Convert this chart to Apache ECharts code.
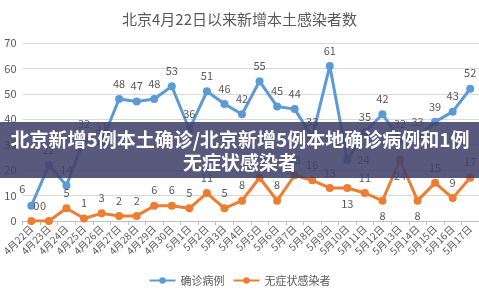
<!DOCTYPE html>
<html>
<head>
<meta charset="utf-8">
<script src="https://cdn.jsdelivr.net/npm/echarts@6/dist/echarts.min.js"></script>
<style>
  html, body { margin: 0; padding: 0; background: #fff; }
  #chart { width: 479px; height: 300px; }
</style>
</head>
<body>
<div id="chart"></div>
<script>
const dates = ['4月22日', '4月23日', '4月24日', '4月25日', '4月26日', '4月27日', '4月28日', '4月29日', '4月30日',
    '5月1日', '5月2日', '5月3日', '5月4日', '5月5日', '5月6日', '5月7日', '5月8日', '5月9日', '5月10日',
    '5月11日', '5月12日', '5月13日', '5月14日', '5月15日', '5月16日', '5月17日'];
const confirmed = [6, 22, 14, 32, 31, 48, 47, 48, 53, 36, 51, 46, 42, 55, 45, 44, 33, 61, 24, 35, 42, 32, 33, 39, 43, 52];
const asymptomatic = [0, 0, 5, 1, 3, 2, 2, 6, 6, 5, 11, 5, 8, 17, 8, 18, 16, 13, 13, 11, 8, 24, 8, 15, 9, 17];

// label placement that differs from "above the marker"
const confirmedLabelPos = {
    0: {position: [-8, -18]},
    18: {position: 'right'}
};
const asymptomaticLabelPos = {
    0: {position: [6, -17]},
    1: {position: [-5, -17]},
    18: {position: 'bottom'},
    20: {position: 'bottom'},
    21: {position: 'bottom'},
    22: {position: 'bottom'}
};

const BLUE = '#5b9bd5';
const ORANGE = '#ed7d31';
const GREY = '#595959';

function lineSeries(name, values, color, labelPos) {
    return {
        name: name,
        type: 'line',
        data: values.map((v, i) => labelPos[i] ? {value: v, label: labelPos[i]} : v),
        symbol: 'circle',
        symbolSize: 8,
        lineStyle: {width: 3, color: color},
        itemStyle: {color: color},
        label: {show: true, position: 'top', distance: 6, color: GREY, fontSize: 11},
        animation: false
    };
}

const chart = echarts.init(document.getElementById('chart'));
chart.setOption({
    textStyle: {fontFamily: '"Noto Sans CJK SC", "Noto Sans", sans-serif'},
    title: {
        text: '北京4月22日以来新增本土感染者数',
        left: 'center',
        top: 7,
        textStyle: {fontSize: 15, fontWeight: 'normal', color: GREY}
    },
    legend: {
        bottom: 9,
        left: 'center',
        itemWidth: 26,
        itemHeight: 8,
        itemGap: 8,
        textStyle: {fontSize: 11, color: GREY},
        data: ['确诊病例', '无症状感染者']
    },
    grid: {left: 19, right: -8, top: 43, bottom: 79},
    xAxis: {
        type: 'category',
        data: dates,
        axisLine: {lineStyle: {color: '#bfbfbf'}},
        axisTick: {show: true, length: 4, lineStyle: {color: '#bfbfbf'}},
        axisLabel: {rotate: 45, interval: 0, fontSize: 10, color: GREY, margin: 6}
    },
    yAxis: {
        type: 'value',
        min: 0,
        max: 70,
        interval: 10,
        axisLine: {show: false},
        axisTick: {show: false},
        axisLabel: {fontSize: 11, color: GREY, margin: 6},
        splitLine: {lineStyle: {color: '#d9d9d9'}}
    },
    series: [
        lineSeries('确诊病例', confirmed, BLUE, confirmedLabelPos),
        lineSeries('无症状感染者', asymptomatic, ORANGE, asymptomaticLabelPos)
    ],
    graphic: [
        {
            type: 'rect',
            shape: {x: 0, y: 122, width: 479, height: 56},
            style: {fill: 'rgba(64, 64, 106, 0.87)'},
            z: 100
        },
        {
            type: 'text',
            x: 240,
            y: 151,
            z: 101,
            style: {
                text: '北京新增5例本土确诊/北京新增5例本地确诊病例和1例\n无症状感染者',
                fill: '#fff',
                font: 'bold 19px "Noto Sans CJK SC", sans-serif',
                lineHeight: 23,
                align: 'center',
                verticalAlign: 'middle'
            }
        }
    ]
});
</script>
</body>
</html>
